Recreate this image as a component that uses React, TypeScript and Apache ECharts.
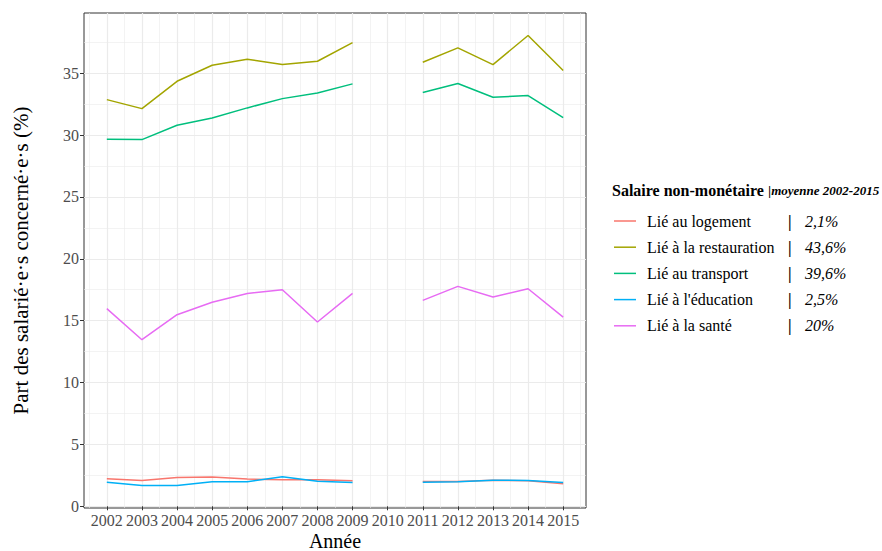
import React, { useEffect, useRef } from "react";
import * as echarts from "echarts";

const years = [2002, 2003, 2004, 2005, 2006, 2007, 2008, 2009, 2010, 2011, 2012, 2013, 2014, 2015];
const logement = [2.22, 2.09, 2.33, 2.36, 2.2, 2.14, 2.14, 2.06, null, 2.0, 2.0, 2.1, 2.06, 1.82];
const restauration = [32.86, 32.13, 34.34, 35.64, 36.12, 35.69, 35.96, 37.47, null, 35.88, 37.04, 35.69, 38.04, 35.21];
const transport = [29.65, 29.63, 30.79, 31.38, 32.19, 32.94, 33.4, 34.13, null, 33.43, 34.16, 33.05, 33.19, 31.41];
const education = [1.95, 1.68, 1.68, 1.98, 1.98, 2.38, 2.03, 1.92, null, 1.95, 1.98, 2.11, 2.09, 1.92];
const sante = [15.97, 13.46, 15.48, 16.48, 17.2, 17.5, 14.89, 17.2, null, 16.64, 17.77, 16.91, 17.58, 15.29];

const seriesNames = ["Lié au logement", "Lié à la restauration", "Lié au transport", "Lié à l'éducation", "Lié à la santé"];
const seriesValues = [logement, restauration, transport, education, sante];
const averages = ["2,1%", "43,6%", "39,6%", "2,5%", "20%"];
const colors = ["#F8766D", "#A3A500", "#00BF7D", "#00B0F6", "#E76BF3"];

const yTicks = [0, 5, 10, 15, 20, 25, 30, 35];
const yMinorTicks = [2.5, 7.5, 12.5, 17.5, 22.5, 27.5, 32.5, 37.5];
const xMinorTicks = [2001.5, 2002.5, 2003.5, 2004.5, 2005.5, 2006.5, 2007.5, 2008.5, 2009.5, 2010.5, 2011.5, 2012.5, 2013.5, 2014.5, 2015.5];

const legendTitle = "Salaire non-monétaire";
const legendSubtitle = "moyenne 2002-2015";
const xTitle = "Année";
const yTitle = "Part des salarié·e·s concerné·e·s (%)";

const FONT = "Liberation Serif";

export default function App() {
  const ref = useRef<HTMLDivElement>(null);
  useEffect(() => {
    if (!ref.current) return;
    const chart = echarts.init(ref.current, undefined, { renderer: "svg" });

    const allVals = seriesValues.flat().filter((v) => v !== null) as number[];
    const dMin = Math.min(...allVals);
    const dMax = Math.max(...allVals);
    const yExp = (dMax - dMin) * 0.05;
    const yMin = dMin - yExp;
    const yMax = dMax + yExp;
    const xExp = (years[years.length - 1] - years[0]) * 0.05;
    const xMin = years[0] - xExp;
    const xMax = years[years.length - 1] + xExp;

    const majorLine = { show: true, lineStyle: { color: "#EBEBEB", width: 1.2 } };
    const minorLine = { show: true, lineStyle: { color: "#EBEBEB", width: 0.6 } };

    const option: any = {
      animation: false,
      backgroundColor: "#ffffff",
      textStyle: { fontFamily: FONT },
      title: {
        left: 607,
        top: 176,
        text: `{b|${legendTitle}} {i||${legendSubtitle}}`,
        textStyle: {
          fontFamily: FONT,
          rich: {
            b: { fontFamily: FONT, fontWeight: "bold", fontSize: 16, color: "#000" },
            i: { fontFamily: FONT, fontStyle: "italic", fontSize: 13, color: "#000" },
          },
        },
      },
      legend: {
        orient: "vertical",
        left: 609,
        top: 206,
        itemWidth: 22,
        itemHeight: 1.5,
        itemGap: 6.2,
        icon: "rect",
        data: seriesNames,
        formatter: (name: string) => {
          const i = seriesNames.indexOf(name);
          return `{s|}{n|${name}}{b||}{p|${averages[i]}}`;
        },
        textStyle: {
          fontFamily: FONT,
          fontSize: 16,
          color: "#000",
          lineHeight: 20,
          rich: {
            s: { width: 6 },
            n: { width: 141, fontFamily: FONT, fontSize: 16, color: "#000", lineHeight: 20 },
            b: { width: 17, fontFamily: FONT, fontSize: 16, fontWeight: "bold", color: "#000", lineHeight: 20 },
            p: { fontFamily: FONT, fontSize: 16, fontStyle: "italic", color: "#000", lineHeight: 20 },
          },
        },
      },
      grid: {
        left: 84,
        top: 13,
        width: 502,
        height: 495,
        show: true,
        borderColor: "#333333",
        borderWidth: 1,
        backgroundColor: "transparent",
        outerBoundsMode: "none",
        containLabel: false,
      },
      xAxis: [
        {
          type: "value",
          min: xMin,
          max: xMax,
          name: xTitle,
          nameLocation: "middle",
          nameMoveOverlap: false,
          nameGap: 23,
          nameTextStyle: { fontFamily: FONT, fontSize: 20, lineHeight: 20, color: "#000" },
          axisLine: { show: false },
          axisTick: { show: true, length: 4, customValues: years, lineStyle: { color: "#333333", width: 1 } },
          axisLabel: {
            customValues: years,
            margin: 4,
            fontFamily: FONT,
            fontSize: 16,
            color: "#4D4D4D",
            formatter: (v: number) => String(Math.round(v)),
          },
          splitLine: majorLine,
        },
        {
          type: "value",
          min: xMin,
          max: xMax,
          position: "top",
          axisLine: { show: false },
          axisTick: { show: false, customValues: xMinorTicks },
          axisLabel: { show: false, customValues: xMinorTicks },
          splitLine: minorLine,
        },
      ],
      yAxis: [
        {
          type: "value",
          min: yMin,
          max: yMax,
          name: yTitle,
          nameLocation: "middle",
          nameGap: 53,
          nameRotate: 90,
          nameTextStyle: { fontFamily: FONT, fontSize: 21, color: "#000" },
          axisLine: { show: false },
          axisTick: { show: true, length: 4, customValues: yTicks, lineStyle: { color: "#333333", width: 1 } },
          axisLabel: {
            customValues: yTicks,
            margin: 5,
            fontFamily: FONT,
            fontSize: 16,
            color: "#4D4D4D",
            formatter: (v: number) => String(Math.round(v)),
          },
          splitLine: majorLine,
        },
        {
          type: "value",
          min: yMin,
          max: yMax,
          position: "right",
          axisLine: { show: false },
          axisTick: { show: false, customValues: yMinorTicks },
          axisLabel: { show: false, customValues: yMinorTicks },
          splitLine: minorLine,
        },
      ],
      series: seriesNames.map((name, i) => ({
        name,
        type: "line",
        xAxisIndex: 0,
        yAxisIndex: 0,
        data: years.map((y, k) => [y, seriesValues[i][k]]),
        showSymbol: false,
        symbol: "none",
        connectNulls: false,
        color: colors[i],
        lineStyle: { width: 1.5, color: colors[i] },
        z: 3,
      })),
    };
    chart.setOption(option);
    return () => chart.dispose();
  }, []);
  return (
    <div
      ref={ref}
      style={{ position: "absolute", left: 0, top: 0, width: 882, height: 551 }}
    />
  );
}
